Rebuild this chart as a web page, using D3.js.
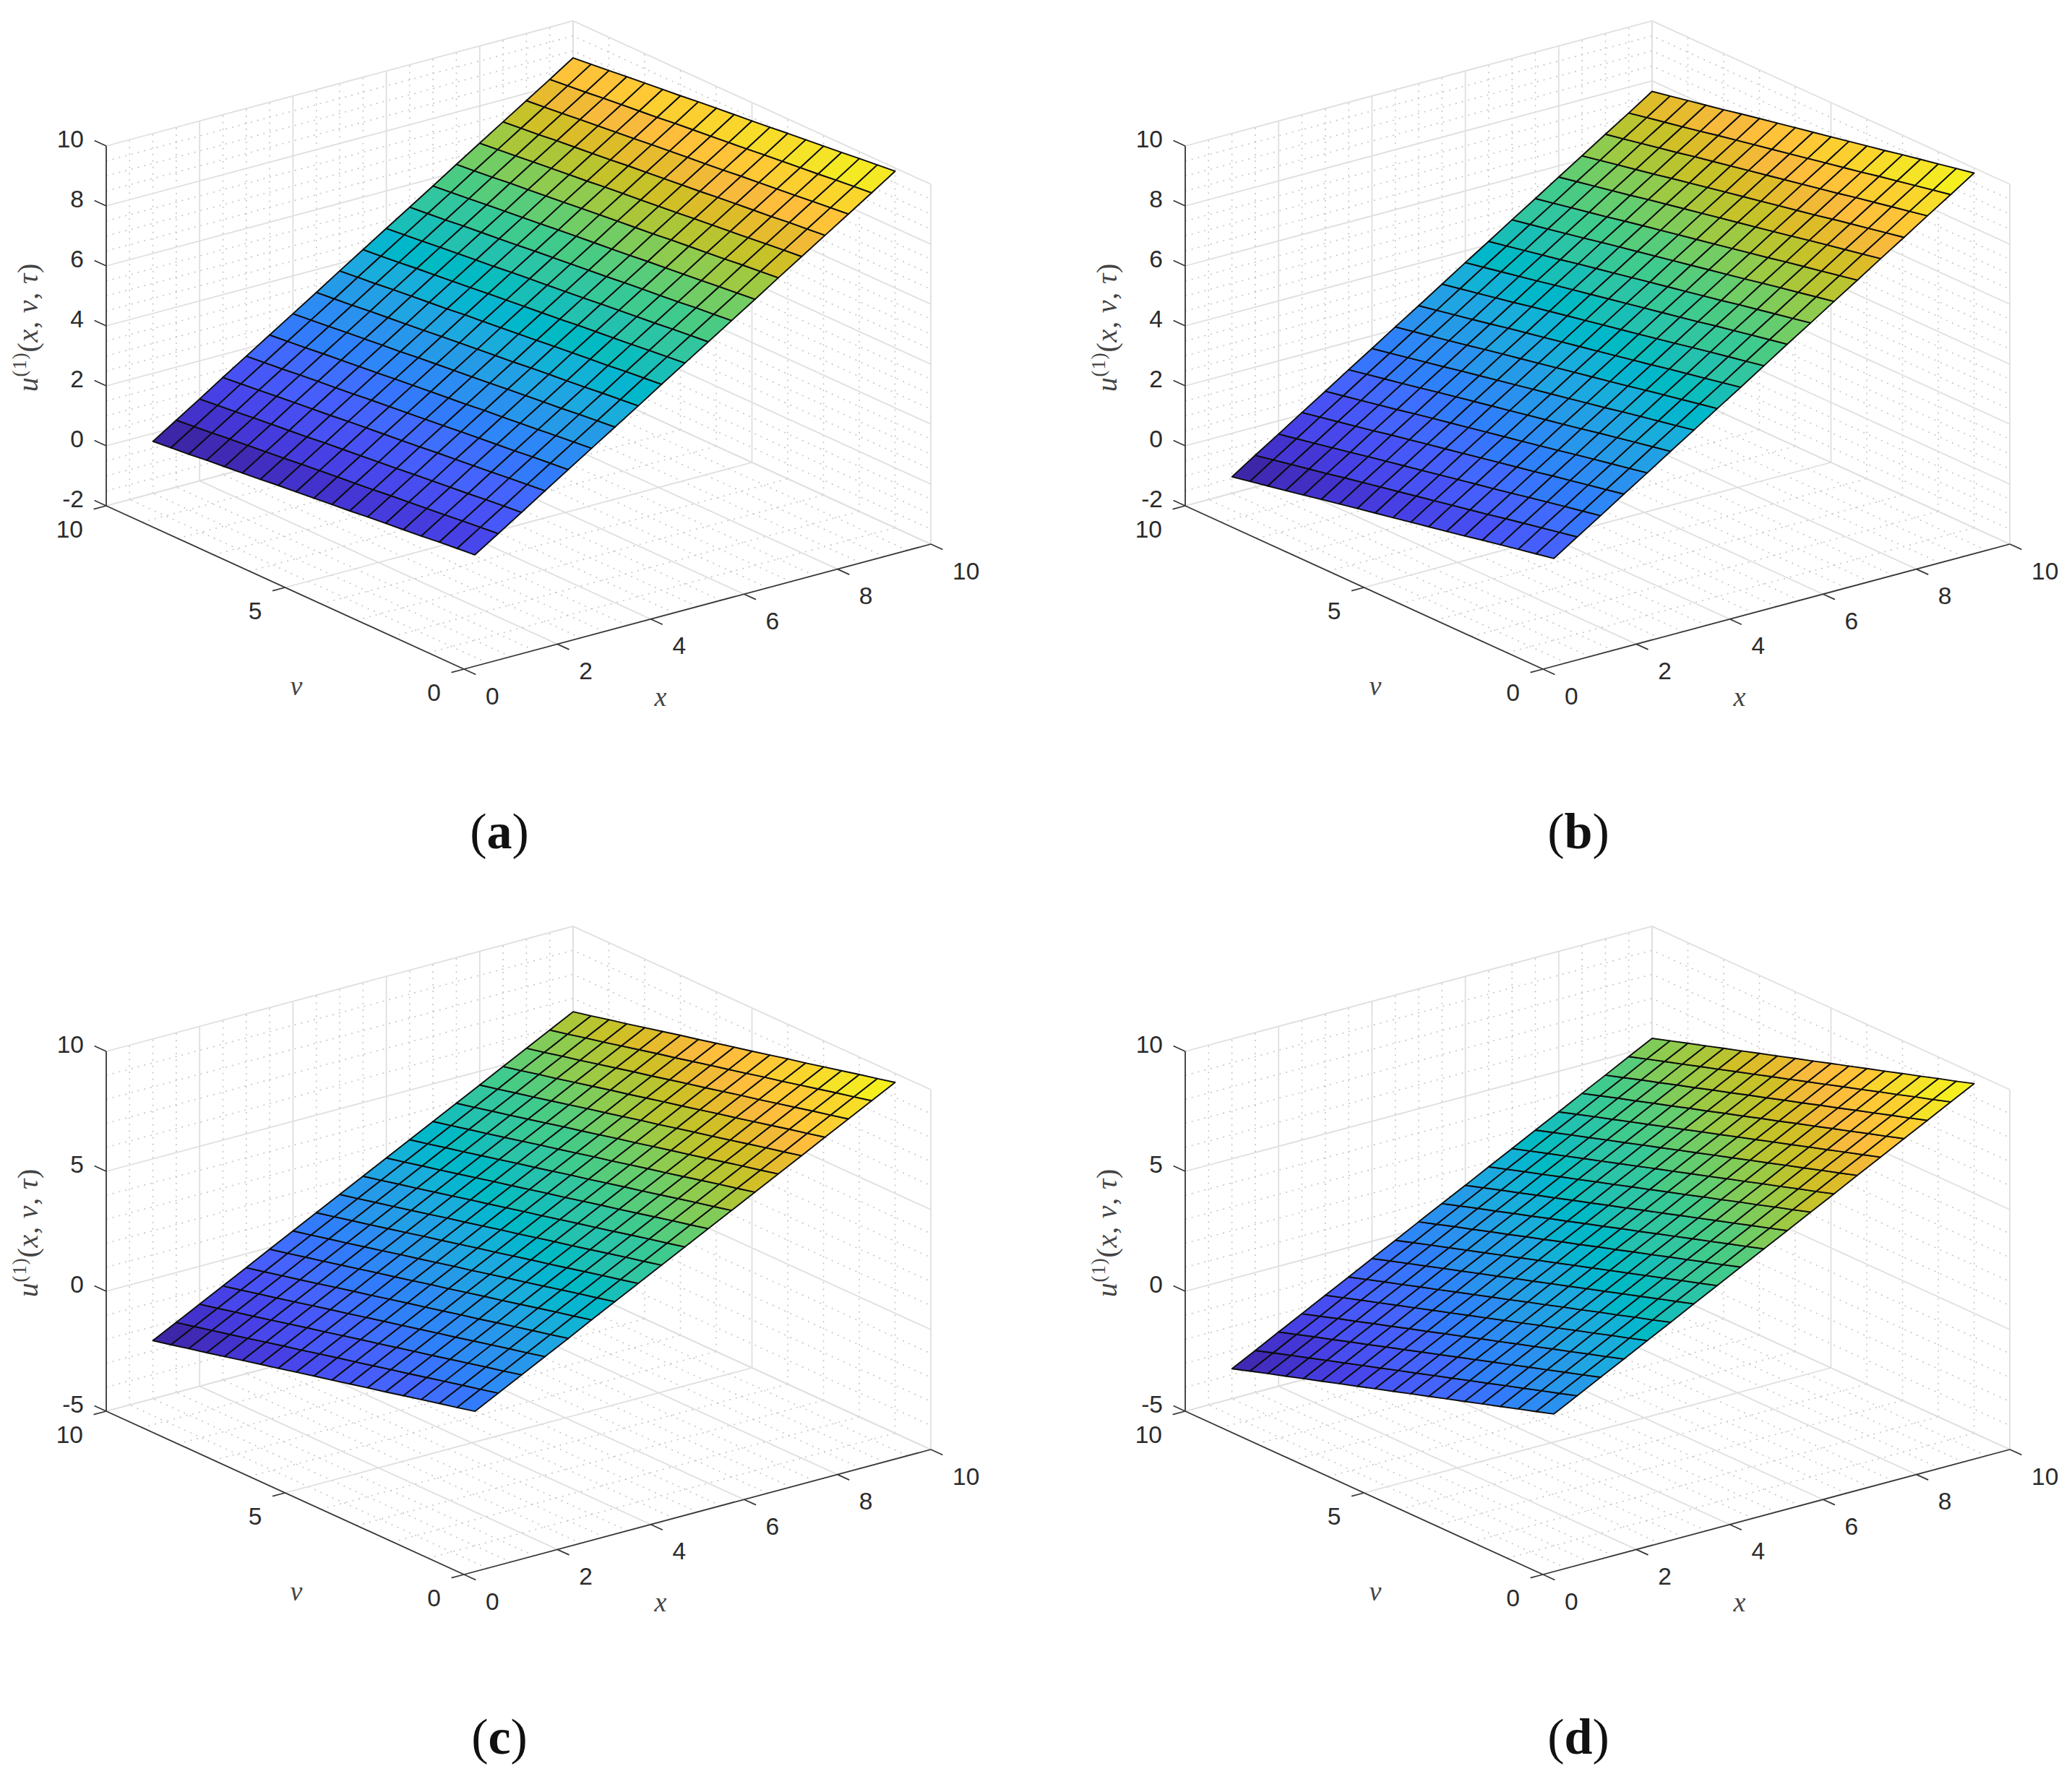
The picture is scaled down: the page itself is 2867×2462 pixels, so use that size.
<!DOCTYPE html>
<html>
<head>
<meta charset="utf-8">
<script src="https://cdn.jsdelivr.net/npm/d3@7"></script>
<style>
  body { margin: 0; background: #fff; }
</style>
</head>
<body>
<svg id="chart" width="2867" height="2462"></svg>
<script>
// grid of the surface, same for the four panels
const xValues = [1, 1.5, 2, 2.5, 3, 3.5, 4, 4.5, 5, 5.5, 6, 6.5, 7, 7.5, 8, 8.5, 9, 9.5, 10];
const vValues = [1, 1.5, 2, 2.5, 3, 3.5, 4, 4.5, 5, 5.5, 6, 6.5, 7, 7.5, 8, 8.5, 9, 9.5, 10];

// height along the v=1 edge, and how far the surface drops along v
const uEdgeA = [0.85, 1.35, 1.85, 2.36, 2.86, 3.36, 3.86, 4.36, 4.87, 5.37, 5.87, 6.37, 6.87, 7.38, 7.88, 8.38, 8.88, 9.38, 9.89];
const dropA = [0, -0.06, -0.12, -0.19, -0.25, -0.31, -0.37, -0.44, -0.50, -0.56, -0.62, -0.68, -0.75, -0.81, -0.87, -0.93, -1.00, -1.06, -1.12];
const uEdgeB = [0.73, 1.24, 1.74, 2.25, 2.75, 3.26, 3.76, 4.27, 4.77, 5.28, 5.79, 6.29, 6.80, 7.30, 7.81, 8.31, 8.82, 9.32, 9.83];
const dropB = [0, -0.12, -0.24, -0.36, -0.48, -0.61, -0.73, -0.85, -0.97, -1.09, -1.21, -1.33, -1.45, -1.57, -1.70, -1.82, -1.94, -2.06, -2.18];
const uEdgeC = [0.60, 1.10, 1.60, 2.10, 2.60, 3.11, 3.61, 4.11, 4.61, 5.11, 5.61, 6.11, 6.61, 7.11, 7.61, 8.12, 8.62, 9.12, 9.62];
const dropC = [0, -0.18, -0.35, -0.53, -0.71, -0.89, -1.06, -1.24, -1.42, -1.59, -1.77, -1.95, -2.12, -2.30, -2.48, -2.66, -2.83, -3.01, -3.18];
const uEdgeD = [0.49, 0.99, 1.50, 2.00, 2.51, 3.01, 3.52, 4.02, 4.53, 5.03, 5.53, 6.04, 6.54, 7.05, 7.55, 8.06, 8.56, 9.07, 9.57];
const dropD = [0, -0.24, -0.47, -0.71, -0.94, -1.18, -1.41, -1.65, -1.88, -2.12, -2.35, -2.59, -2.82, -3.06, -3.29, -3.53, -3.76, -4.00, -4.24];

// ticks
const xTicks = [0, 2, 4, 6, 8, 10];
const xMinor = [0.5, 1, 1.5, 2.5, 3, 3.5, 4.5, 5, 5.5, 6.5, 7, 7.5, 8.5, 9, 9.5];
const vTicks = [0, 5, 10];
const vMinor = [1, 2, 3, 4, 6, 7, 8, 9];
const zTicksTop = [-2, 0, 2, 4, 6, 8, 10];
const zMinorTop = [-1.5, -1, -0.5, 0.5, 1, 1.5, 2.5, 3, 3.5, 4.5, 5, 5.5, 6.5, 7, 7.5, 8.5, 9, 9.5];
const zTicksBottom = [-5, 0, 5, 10];
const zMinorBottom = [-4, -3, -2, -1, 1, 2, 3, 4, 6, 7, 8, 9];

// parula(64)
const parula = [
  [0.2422,0.1504,0.6603],[0.2504,0.1650,0.7076],[0.2578,0.1818,0.7511],[0.2647,0.1978,0.7952],
  [0.2706,0.2147,0.8364],[0.2751,0.2342,0.8710],[0.2783,0.2559,0.8991],[0.2803,0.2782,0.9221],
  [0.2813,0.3006,0.9414],[0.2810,0.3228,0.9579],[0.2795,0.3447,0.9717],[0.2760,0.3667,0.9829],
  [0.2699,0.3892,0.9906],[0.2602,0.4123,0.9952],[0.2440,0.4358,0.9988],[0.2206,0.4603,0.9973],
  [0.1963,0.4847,0.9892],[0.1834,0.5074,0.9798],[0.1786,0.5289,0.9682],[0.1764,0.5499,0.9520],
  [0.1687,0.5703,0.9359],[0.1540,0.5902,0.9218],[0.1460,0.6091,0.9079],[0.1380,0.6276,0.8973],
  [0.1248,0.6459,0.8883],[0.1113,0.6635,0.8763],[0.0952,0.6798,0.8598],[0.0689,0.6948,0.8394],
  [0.0297,0.7082,0.8163],[0.0036,0.7203,0.7917],[0.0067,0.7312,0.7660],[0.0433,0.7411,0.7394],
  [0.0964,0.7500,0.7120],[0.1408,0.7584,0.6842],[0.1717,0.7670,0.6554],[0.1938,0.7758,0.6251],
  [0.2161,0.7843,0.5923],[0.2470,0.7918,0.5567],[0.2906,0.7973,0.5188],[0.3406,0.8008,0.4789],
  [0.3909,0.8029,0.4354],[0.4456,0.8024,0.3909],[0.5044,0.7993,0.3480],[0.5616,0.7942,0.3045],
  [0.6174,0.7876,0.2612],[0.6720,0.7793,0.2227],[0.7242,0.7698,0.1910],[0.7738,0.7598,0.1646],
  [0.8203,0.7498,0.1535],[0.8634,0.7406,0.1596],[0.9035,0.7330,0.1774],[0.9393,0.7288,0.2100],
  [0.9728,0.7298,0.2394],[0.9956,0.7434,0.2371],[0.9970,0.7659,0.2199],[0.9952,0.7893,0.2028],
  [0.9892,0.8136,0.1885],[0.9786,0.8386,0.1766],[0.9676,0.8639,0.1643],[0.9610,0.8890,0.1537],
  [0.9597,0.9135,0.1423],[0.9628,0.9373,0.1265],[0.9691,0.9606,0.1064],[0.9769,0.9839,0.0805]
].map(c => d3.rgb(c[0] * 255, c[1] * 255, c[2] * 255).formatHex());

const svg = d3.select("#chart");

// the box is seen in parallel projection: each data axis has a screen x and a screen y scale
const xToPx = d3.scaleLinear().domain([0, 10]).range([0, 646]);
const xToPy = d3.scaleLinear().domain([0, 10]).range([0, -173]);
const vToPx = d3.scaleLinear().domain([0, 10]).range([0, -495]);
const vToPy = d3.scaleLinear().domain([0, 10]).range([0, -226]);

const originX = 642, originY = 926, tickLen = 18;

function drawPanel(dx, dy, caption, uEdge, drop, zTicks, zMinor) {
    const zMin = zTicks[0], zMax = zTicks[zTicks.length - 1];
    const zToPy = d3.scaleLinear().domain([zMin, zMax]).range([0, -498]);
    const project = (x, v, z) => [
        originX + xToPx(x) + vToPx(v),
        originY + xToPy(x) + vToPy(v) + zToPy(z)
    ];
    const line = d3.line();
    const g = svg.append("g").attr("transform", `translate(${dx},${dy})`);

    function gridLines(parent, list) {
        parent.selectAll("path").data(list).join("path").attr("d", d => line(d)).attr("fill", "none");
    }

    // walls and floor: v=10, x=10, z=min
    const minorSegs = [];
    xMinor.forEach(x => { minorSegs.push([project(x, 10, zMin), project(x, 10, zMax)]); minorSegs.push([project(x, 0, zMin), project(x, 10, zMin)]); });
    vMinor.forEach(v => { minorSegs.push([project(10, v, zMin), project(10, v, zMax)]); minorSegs.push([project(0, v, zMin), project(10, v, zMin)]); });
    zMinor.forEach(z => { minorSegs.push([project(0, 10, z), project(10, 10, z), project(10, 0, z)]); });
    gridLines(g.append("g").attr("stroke", "#c6c6c6").attr("stroke-width", 1.6).attr("stroke-dasharray", "2 7"), minorSegs);

    const majorSegs = [];
    xTicks.forEach(x => { majorSegs.push([project(x, 10, zMin), project(x, 10, zMax)]); majorSegs.push([project(x, 0, zMin), project(x, 10, zMin)]); });
    vTicks.forEach(v => { majorSegs.push([project(10, v, zMin), project(10, v, zMax)]); majorSegs.push([project(0, v, zMin), project(10, v, zMin)]); });
    zTicks.forEach(z => { majorSegs.push([project(0, 10, z), project(10, 10, z), project(10, 0, z)]); });
    gridLines(g.append("g").attr("stroke", "#dfdfdf").attr("stroke-width", 1.8), majorSegs);

    // surface, one flat cell per grid square, colour taken from its first corner as surf does
    const u = vValues.map((v, j) => xValues.map((x, i) => uEdge[i] + drop[j]));
    const color = d3.scaleQuantize().domain(d3.extent(u.flat())).range(parula);
    const cells = [];
    for (let j = 0; j < vValues.length - 1; j++) {
        for (let i = 0; i < xValues.length - 1; i++) {
            cells.push({i: i, j: j});
        }
    }
    g.append("g").attr("stroke", "#0c0c0c").attr("stroke-width", 1.9).attr("stroke-linejoin", "round")
        .selectAll("path").data(cells).join("path")
        .attr("fill", d => color(u[d.j][d.i]))
        .attr("d", d => line([
            project(xValues[d.i], vValues[d.j], u[d.j][d.i]),
            project(xValues[d.i + 1], vValues[d.j], u[d.j][d.i + 1]),
            project(xValues[d.i + 1], vValues[d.j + 1], u[d.j + 1][d.i + 1]),
            project(xValues[d.i], vValues[d.j + 1], u[d.j + 1][d.i])
        ]) + "Z");

    // axis lines and ticks
    const axisG = g.append("g").attr("stroke", "#383838").attr("stroke-width", 1.8).attr("fill", "none");
    const axisSegs = [
        [project(0, 10, zMin), project(0, 10, zMax)],
        [project(0, 10, zMin), project(0, 0, zMin)],
        [project(0, 0, zMin), project(10, 0, zMin)]
    ];
    const vUnit = tickLen / Math.hypot(495, 226), xUnit = tickLen / Math.hypot(646, 173);
    zTicks.forEach(z => {
        const p = project(0, 10, z);
        axisSegs.push([p, [p[0] - 495 * vUnit, p[1] - 226 * vUnit]]);
    });
    vTicks.forEach(v => {
        const p = project(0, v, zMin);
        axisSegs.push([p, [p[0] - 646 * xUnit, p[1] + 173 * xUnit]]);
    });
    xTicks.forEach(x => {
        const p = project(x, 0, zMin);
        axisSegs.push([p, [p[0] + 495 * vUnit, p[1] + 226 * vUnit]]);
    });
    gridLines(axisG, axisSegs);

    // tick labels
    const labelStyle = sel => sel.attr("font-family", "'Liberation Sans', Arial, sans-serif")
        .attr("font-size", 33.5).attr("fill", "#2b2b2b").attr("dominant-baseline", "central");
    g.append("g").call(labelStyle).attr("text-anchor", "end")
        .selectAll("text").data(zTicks).join("text")
        .attr("x", d => project(0, 10, d)[0] - 31)
        .attr("y", d => project(0, 10, d)[1] - 10)
        .text(d => d);
    g.append("g").call(labelStyle).attr("text-anchor", "end")
        .selectAll("text").data(vTicks).join("text")
        .attr("x", d => project(0, d, zMin)[0] - 32)
        .attr("y", d => project(0, d, zMin)[1] + 32)
        .text(d => d);
    g.append("g").call(labelStyle).attr("text-anchor", "start")
        .selectAll("text").data(xTicks).join("text")
        .attr("x", d => project(d, 0, zMin)[0] + 30)
        .attr("y", d => project(d, 0, zMin)[1] + 37)
        .text(d => d);

    // axis titles
    const mathStyle = sel => sel.attr("font-family", "'Liberation Serif', 'DejaVu Serif', serif")
        .attr("font-size", 38).attr("fill", "#444").attr("text-anchor", "middle");
    g.append("text").call(mathStyle).attr("x", 914).attr("y", 977).attr("font-style", "italic").text("x");
    g.append("text").call(mathStyle).attr("x", 410).attr("y", 962).attr("font-style", "italic").text("v");

    const zLabel = g.append("text").call(mathStyle).attr("font-size", 40).attr("letter-spacing", 0.8)
        .attr("transform", "translate(52,453) rotate(-90)");
    zLabel.append("tspan").attr("font-style", "italic").text("u");
    zLabel.append("tspan").attr("font-size", 27).attr("dy", -16).text("(1)");
    zLabel.append("tspan").attr("dy", 16).text("(");
    zLabel.append("tspan").attr("font-style", "italic").text("x");
    zLabel.append("tspan").text(", ");
    zLabel.append("tspan").attr("font-style", "italic").text("v");
    zLabel.append("tspan").text(", ");
    zLabel.append("tspan").attr("font-style", "italic").text("τ");
    zLabel.append("tspan").text(")");

    // sub caption
    const cap = g.append("text").attr("x", 691).attr("y", 1174).attr("text-anchor", "middle")
        .attr("font-family", "'Liberation Serif', serif").attr("font-size", 70).attr("fill", "#111");
    cap.append("tspan").text("(");
    cap.append("tspan").attr("font-weight", "bold").text(caption);
    cap.append("tspan").text(")");
}

drawPanel(0, 0, "a", uEdgeA, dropA, zTicksTop, zMinorTop);
drawPanel(1493, 0, "b", uEdgeB, dropB, zTicksTop, zMinorTop);
drawPanel(0, 1253, "c", uEdgeC, dropC, zTicksBottom, zMinorBottom);
drawPanel(1493, 1253, "d", uEdgeD, dropD, zTicksBottom, zMinorBottom);
</script>
</body>
</html>
